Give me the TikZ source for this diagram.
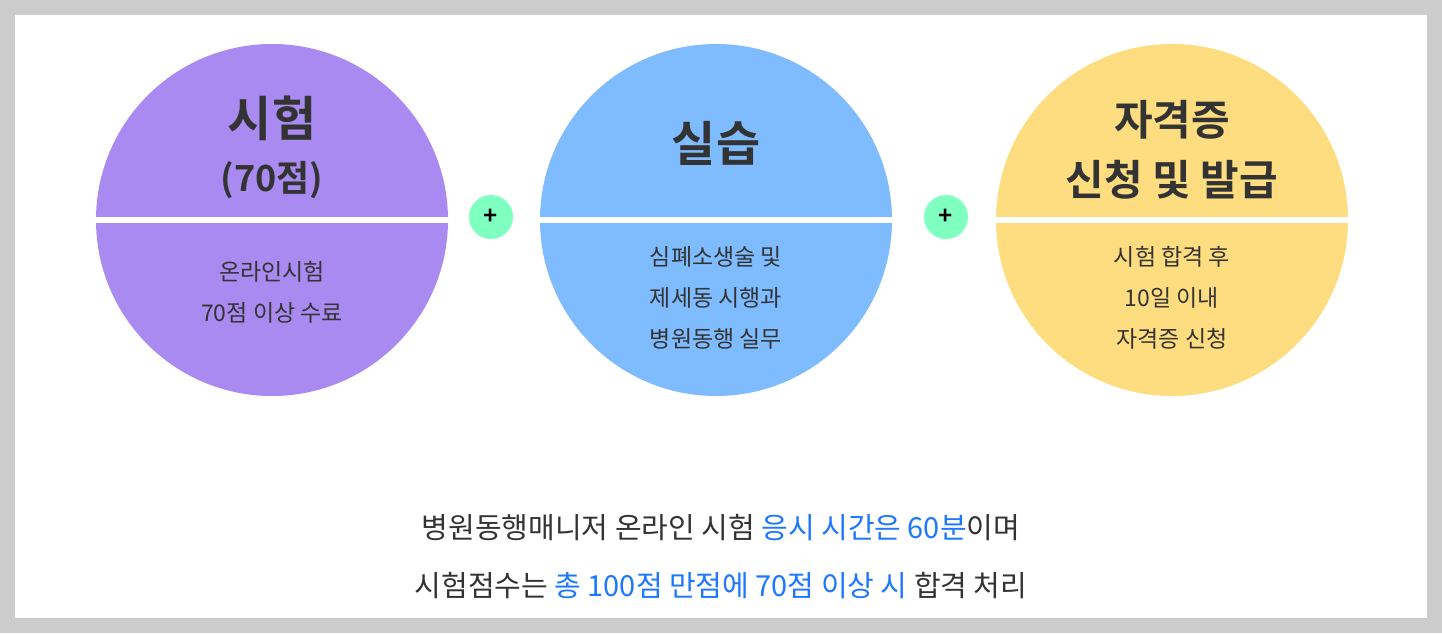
\documentclass[tikz,border=0pt]{standalone}
\usepackage{fontspec}
\setmainfont{Noto Sans CJK KR}
\newfontfamily\krb{Noto Sans CJK KR Bold}
\definecolor{pur}{HTML}{A98AF0}
\definecolor{blu}{HTML}{7FBCFF}
\definecolor{yel}{HTML}{FEDD80}
\definecolor{grn}{HTML}{7FFFC0}
\definecolor{txt}{HTML}{333333}
\definecolor{hl}{HTML}{1E78FF}
\begin{document}
\begin{tikzpicture}[x=1pt,y=-1pt,
  circ/.style={circle,minimum size=352pt,inner sep=0pt},
  head/.style={font=\krb\fontsize{48}{54}\selectfont,text=txt,align=center},
  body/.style={font=\fontsize{23}{41}\selectfont,text=txt,align=center},
  plus/.style={circle,fill=grn,minimum size=44pt,inner sep=0pt,font=\krb\fontsize{24}{24}\selectfont}]
\fill[gray!40] (0,0) rectangle (1442,633);
\fill[white] (15,15) rectangle (1427,618);
\useasboundingbox (0,0) rectangle (1442,633);
\node[circ,fill=pur] (c1) at (272,220) {};
\node[circ,fill=blu] (c2) at (716,220) {};
\node[circ,fill=yel] (c3) at (1172,220) {};
\foreach \c in {c1,c2,c3}{\draw[white,line width=6pt] (\c.west) -- (\c.east);}
\node[plus] (p1) at (491,217) {+};
\node[plus] (p2) at (946,217) {+};
\node[head] (h1) at (272,118) {시험};
\node[font=\krb\fontsize{36}{40}\selectfont,text=txt] (h1b) at (272,180) {(70점)};
\node[head] (h2) at (716,143) {실습};
\node[head,font=\krb\fontsize{42}{60}\selectfont] (h3) at (1172,150) {자격증\\신청 및 발급};
\node[body] (b1) at (272,292) {온라인시험\\70점 이상 수료};
\node[body] (b2) at (716,298) {심폐소생술 및\\제세동 시행과\\병원동행 실무};
\node[body] (b3) at (1172,298) {시험 합격 후\\10일 이내\\자격증 신청};
\node[font=\fontsize{29}{58}\selectfont,text=txt,align=center] (t) at (721,557)
 {병원동행매니저 온라인 시험 \textcolor{hl}{응시 시간은 60분}이며\\시험점수는 \textcolor{hl}{총 100점 만점에 70점 이상 시} 합격 처리};
\end{tikzpicture}
\end{document}
